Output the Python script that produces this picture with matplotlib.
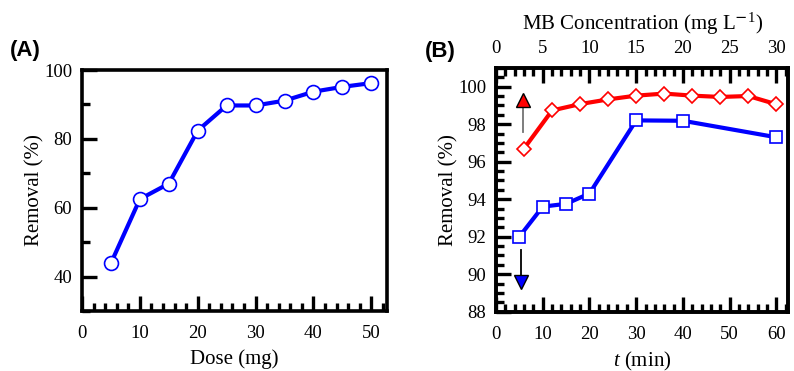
import numpy as np
import matplotlib
matplotlib.use("Agg")
import matplotlib.pyplot as plt
from matplotlib.ticker import MultipleLocator

# panel A: removal vs adsorbent dose
dose = [5, 10, 15, 20, 25, 30, 35, 40, 45, 50]
removal_dose = [43.9, 62.5, 67.0, 82.4, 89.7, 89.7, 91.1, 93.7, 95.1, 96.2]

# panel B: removal vs contact time (bottom axis) and MB concentration (top axis)
time_min = [5, 10, 15, 20, 30, 40, 60]
removal_time = [92.0, 93.6, 93.75, 94.3, 98.2, 98.18, 97.3]
conc = [3, 6, 9, 12, 15, 18, 21, 24, 27, 30]
removal_conc = [96.7, 98.73, 99.07, 99.32, 99.52, 99.63, 99.52, 99.45, 99.5, 99.06]

# arrow annotations (tail, tip) in data units of the bottom axis
red_arrow = ((5.7, 97.6), (5.7, 99.45))
blue_arrow = ((5.3, 91.27), (5.3, 89.45))

plt.rcParams['font.family'] = ['Liberation Serif', 'DejaVu Serif']
plt.rcParams['mathtext.fontset'] = 'custom'
plt.rcParams['mathtext.rm'] = 'Liberation Serif'
plt.rcParams['mathtext.it'] = 'Liberation Serif:italic'

TICK_FS = 13.5
LABEL_FS = 15
SPINE_W = 2.6

fig = plt.figure(figsize=(7.94, 3.71), dpi=100)
axA = fig.add_axes([0.1033, 0.1617, 0.384, 0.6496])
axB = fig.add_axes([0.6247, 0.16, 0.3678, 0.657])


def style_axis(ax):
    for s in ax.spines.values():
        s.set_linewidth(SPINE_W)
    ax.tick_params(which='both', direction='in', width=2.4, labelsize=TICK_FS)
    ax.tick_params(which='major', length=11)
    ax.tick_params(which='minor', length=6)


# ---- panel A ----
axA.plot(dose, removal_dose, color='blue', lw=3.0, marker='o', ms=10,
         mfc='white', mec='blue', mew=1.2, zorder=3)
axA.set_xlim(0, 52.7)
axA.set_ylim(30, 100)
axA.xaxis.set_major_locator(MultipleLocator(10))
axA.xaxis.set_minor_locator(MultipleLocator(2))
axA.yaxis.set_major_locator(MultipleLocator(20))
axA.yaxis.set_minor_locator(MultipleLocator(10))
style_axis(axA)
axA.tick_params(top=False, right=False, which='both')
axA.tick_params(axis='x', pad=10)
axA.tick_params(axis='y', pad=7)
axA.set_yticks([40, 60, 80, 100])
axA.set_xlabel('Dose (mg)', fontsize=LABEL_FS, labelpad=5)
axA.set_ylabel('Removal (%)', fontsize=LABEL_FS, labelpad=0)
fig.text(0.012, 0.865, '(A)', fontsize=16, fontweight='bold',
         family='Liberation Sans', va='center', ha='left')

# ---- panel B ----
axB.plot(time_min, removal_time, color='blue', lw=3.0, marker='s', ms=8,
         mfc='white', mec='blue', mew=1.2, zorder=3)
axB.set_xlim(0, 62.5)
axB.set_ylim(88, 101)
axB.xaxis.set_major_locator(MultipleLocator(10))
axB.xaxis.set_minor_locator(MultipleLocator(2))
axB.yaxis.set_major_locator(MultipleLocator(2))
axB.yaxis.set_minor_locator(MultipleLocator(0.5))
style_axis(axB)
axB.tick_params(top=False, right=False, which='both')
axB.tick_params(axis='x', pad=10)
axB.tick_params(axis='y', pad=7)
axB.set_xlabel('$t$ (min)', fontsize=LABEL_FS, labelpad=5)
axB.set_ylabel('Removal (%)', fontsize=LABEL_FS, labelpad=0)

axT = axB.twiny()
axT.plot(conc, removal_conc, color='red', lw=3.0, marker='D', ms=7.5,
         mfc='white', mec='red', mew=1.2, zorder=3)
axT.set_xlim(0, 31.25)
axT.xaxis.set_major_locator(MultipleLocator(5))
axT.xaxis.set_minor_locator(MultipleLocator(1))
style_axis(axT)
axT.tick_params(axis='x', which='both', top=True, bottom=False, pad=8)
axT.tick_params(axis='y', which='both', left=False, right=False)
axT.set_xlabel('MB Concentration (mg L$^{\\mathsf{-}1}$)', fontsize=LABEL_FS,
               labelpad=7)

# arrows: thin shaft plus filled triangular head
(rx0, ry0), (rx1, ry1) = red_arrow
axB.plot([rx0, rx0], [ry0, ry1 - 0.3], color='0.45', lw=1.3, zorder=4)
axB.plot([rx1], [ry1 - 0.15], marker='^', ms=10, mfc='red', mec='black',
         mew=1.0, zorder=5, clip_on=False)
(bx0, by0), (bx1, by1) = blue_arrow
axB.plot([bx0, bx0], [by0, by1 + 0.3], color='black', lw=1.3, zorder=4)
axB.plot([bx1], [by1 + 0.15], marker='v', ms=10, mfc='blue', mec='black',
         mew=1.0, zorder=5, clip_on=False)

fig.text(0.535, 0.86, '(B)', fontsize=16, fontweight='bold',
         family='Liberation Sans', va='center', ha='left')

fig.savefig('out.png', dpi=100)
